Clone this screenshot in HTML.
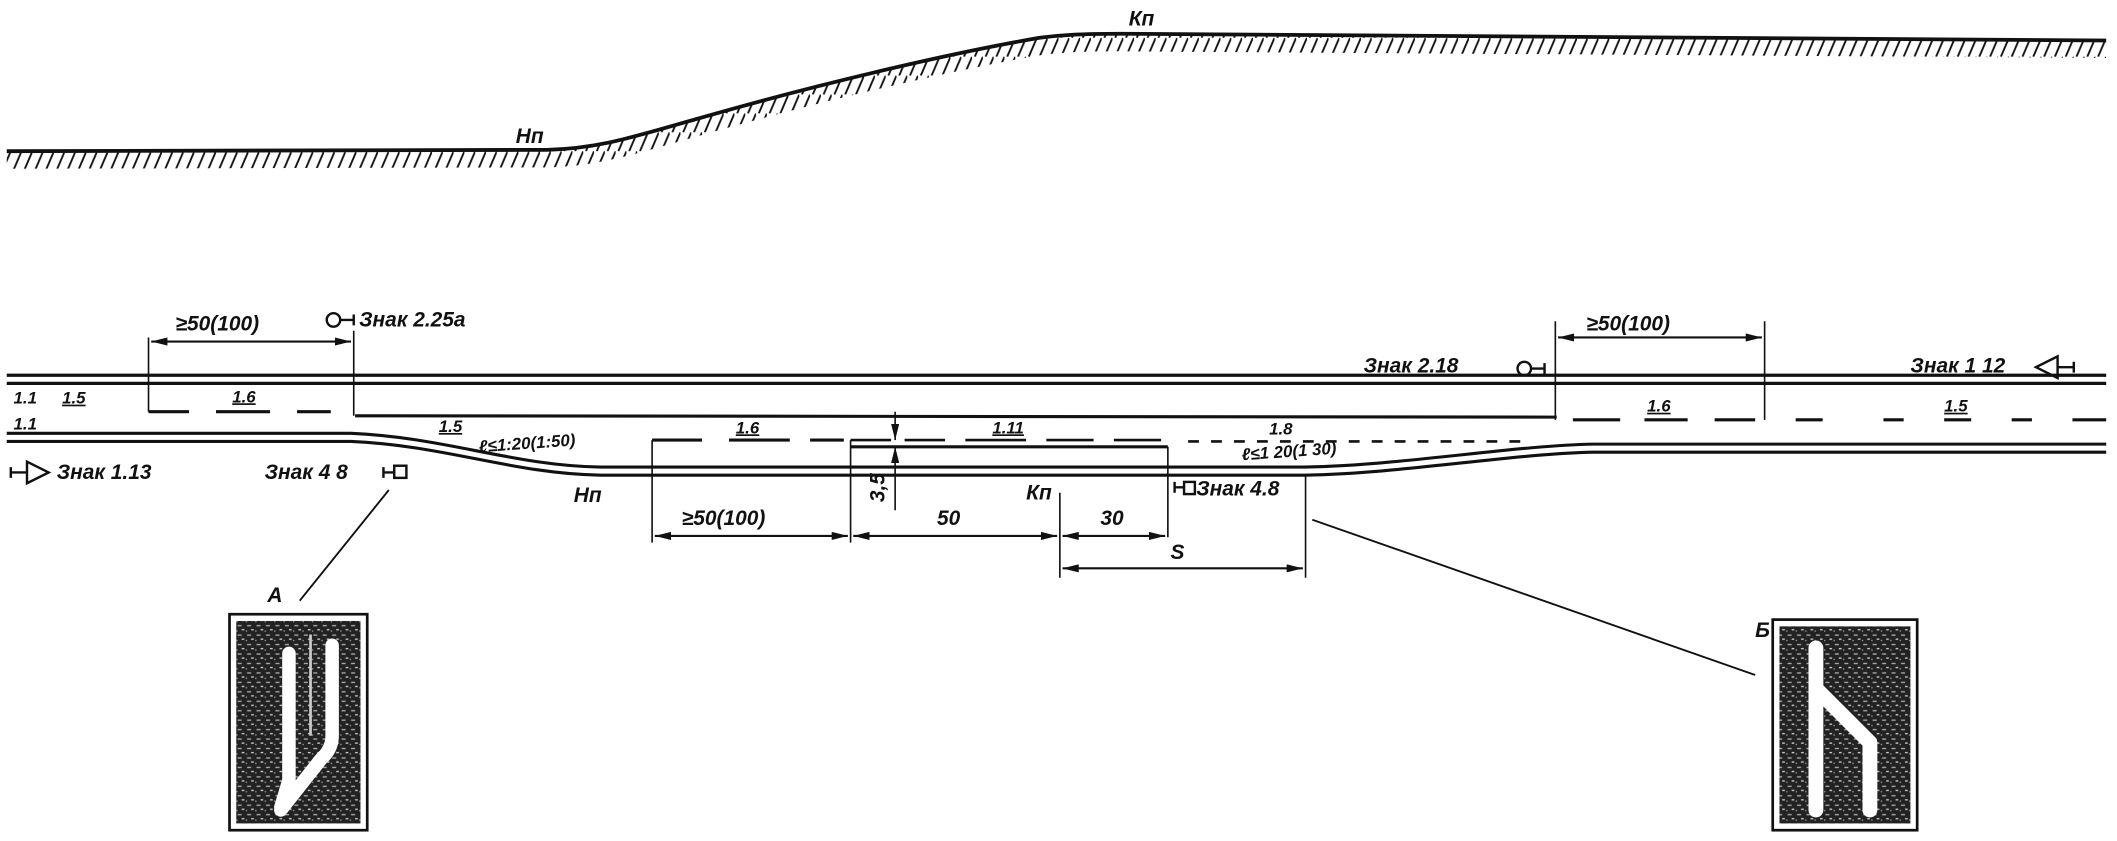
<!DOCTYPE html>
<html><head><meta charset="utf-8"><style>
html,body{margin:0;padding:0;background:#fff;}
svg{display:block}
text{font-family:"Liberation Sans","DejaVu Sans",sans-serif;font-style:italic;fill:#111;}
</style></head><body>
<svg width="2117" height="841" viewBox="0 0 1568 623" preserveAspectRatio="none" xmlns="http://www.w3.org/2000/svg">
<defs>
<pattern id="h" width="8" height="14" patternUnits="userSpaceOnUse">
<line x1="8" y1="0" x2="2" y2="14" stroke="#111" stroke-width="1.4"/>
</pattern>
<pattern id="tex" width="7" height="7" patternUnits="userSpaceOnUse">
<rect width="7" height="7" fill="#222"/>
<rect x="1" y="1" width="3" height="1" fill="#aaa"/>
<rect x="4" y="4" width="2" height="1" fill="#ccc"/>
<rect x="0" y="5" width="1" height="1" fill="#999"/>
</pattern>
<marker id="a" markerWidth="12" markerHeight="6" refX="12" refY="3" orient="auto" markerUnits="userSpaceOnUse"><path d="M0,0 L12,3 L0,6 Z" fill="#111"/></marker>
<marker id="b" markerWidth="12" markerHeight="6" refX="0" refY="3" orient="auto" markerUnits="userSpaceOnUse"><path d="M12,0 L0,3 L12,6 Z" fill="#111"/></marker>
</defs>
<g fill="none" stroke="#111">
<path d="M5,112 L405,111 C445,110 470,101 520,87 C600,64 700,40 770,28 C785,26 800,25 830,25 L1560,30 L1560,43 L830,38 C800,38 785,39 770,41 C700,53 600,77 520,100 C470,114 445,123 405,124 L5,125 Z" fill="url(#h)" stroke="none"/>
<path d="M5,112 L405,111 C445,110 470,101 520,87 C600,64 700,40 770,28 C785,26 800,25 830,25 L1560,30" stroke-width="2.8"/>
<line x1="5" y1="278" x2="1560" y2="278" stroke-width="2.4"/>
<line x1="5" y1="284" x2="1560" y2="284" stroke-width="2.4"/>
<path d="M263,308 L1153,309" stroke-width="2.3"/>
<path d="M110,305 H140 M160,305 H200 M220,305 H245" stroke-width="2.3"/>
<path d="M1165,311 H1200 M1218,311 H1250 M1270,311 H1300 M1330,311 H1350 M1395,311 H1410 M1440,311 H1460 M1490,311 H1505 M1535,311 H1560" stroke-width="2.3"/>
<path d="M5,321 L260,321 C330,324 380,345 445,346 L960,346 C1030,346 1120,330 1180,329 L1560,329" stroke-width="2.3"/>
<path d="M5,327 L260,327 C330,330 380,351 445,352 L960,352 C1030,352 1120,336 1180,335 L1560,335" stroke-width="2.3"/>
<path d="M483,326 H520 M540,326 H585 M600,326 H625" stroke-width="2.3"/>
<path d="M630,326 H660 M670,326 H700 M715,326 H760 M775,326 H810 M825,326 H860" stroke-width="2"/>
<path d="M630,331 H865" stroke-width="2.3"/>
<path d="M880,327 H1130" stroke-width="2" stroke-dasharray="8,9"/>
<path d="M110,250 V305 M262,245 V308 M1152,238 V311 M1307,238 V311" stroke-width="1.2"/>
<path d="M483,326 V402 M630,326 V402 M865,331 V398 M785,365 V428 M967,352 V428" stroke-width="1.2"/>
<line x1="112" y1="253" x2="260" y2="253" stroke-width="1.6" marker-start="url(#b)" marker-end="url(#a)"/>
<line x1="1154" y1="250" x2="1305" y2="250" stroke-width="1.6" marker-start="url(#b)" marker-end="url(#a)"/>
<line x1="485" y1="397" x2="628" y2="397" stroke-width="1.6" marker-start="url(#b)" marker-end="url(#a)"/>
<line x1="632" y1="397" x2="783" y2="397" stroke-width="1.6" marker-start="url(#b)" marker-end="url(#a)"/>
<line x1="787" y1="397" x2="863" y2="397" stroke-width="1.6" marker-start="url(#b)" marker-end="url(#a)"/>
<line x1="787" y1="421" x2="965" y2="421" stroke-width="1.6" marker-start="url(#b)" marker-end="url(#a)"/>
<line x1="663" y1="305" x2="663" y2="326" stroke-width="1.2" marker-end="url(#a)"/>
<line x1="663" y1="378" x2="663" y2="331" stroke-width="1.2" marker-end="url(#a)"/>
<circle cx="247" cy="237" r="5" stroke-width="1.8"/><path d="M252,237 H262 M262,233 V241" stroke-width="1.8"/>
<circle cx="1129" cy="273" r="5" stroke-width="1.8"/><path d="M1134,273 H1144 M1144,269 V277" stroke-width="1.8"/>
<path d="M1524,264 L1508,272 L1524,280 Z M1524,272 H1536 M1536,268 V276" stroke-width="1.8"/>
<path d="M8,350 H20 M8,346 V354 M20,342 L36,350 L20,358 Z" stroke-width="1.8"/>
<rect x="292" y="345" width="9" height="9" stroke-width="1.8"/><path d="M292,350 H284 M284,346 V354" stroke-width="1.8"/>
<rect x="877" y="357" width="8" height="9" stroke-width="1.8"/><path d="M877,361 H870 M870,357 V365" stroke-width="1.8"/>
<line x1="288" y1="363" x2="222" y2="445" stroke-width="1.4"/>
<line x1="972" y1="385" x2="1300" y2="500" stroke-width="1.4"/>
</g>
<rect x="170" y="455" width="102" height="160" fill="#fff" stroke="#111" stroke-width="2"/>
<rect x="175" y="460" width="92" height="150" fill="url(#tex)"/>
<path d="M214,484 L214,578 L208,598 M246,478 L246,545 Q246,555 238,562 L208,600" stroke="#fff" stroke-width="10" fill="none" stroke-linecap="round" stroke-linejoin="round"/>
<path d="M230,470 V545" stroke="#ccc" stroke-width="2" fill="none"/>
<rect x="1313" y="459" width="107" height="156" fill="#fff" stroke="#111" stroke-width="2"/>
<rect x="1318" y="464" width="97" height="146" fill="url(#tex)"/>
<path d="M1345,480 V600 M1345,510 L1385,550 L1385,600" stroke="#fff" stroke-width="11" fill="none" stroke-linecap="round" stroke-linejoin="round"/>
<g font-size="15.5" font-weight="bold">
<text x="382" y="106">Нп</text>
<text x="836" y="19">Кп</text>
<text x="130" y="245">≥50(100)</text>
<text x="266" y="242">Знак 2.25а</text>
<text x="1010" y="276">Знак 2.18</text>
<text x="1175" y="245">≥50(100)</text>
<text x="1415" y="276">Знак 1 12</text>
<text x="10" y="299" font-size="12.5">1.1</text>
<text x="46" y="299" font-size="12.5" text-decoration="underline">1.5</text>
<text x="172" y="298" font-size="12.5" text-decoration="underline">1.6</text>
<text x="10" y="318" font-size="12.5">1.1</text>
<text x="325" y="320" font-size="12.5" text-decoration="underline">1.5</text>
<text x="355" y="335" font-size="12.5" transform="rotate(-4 355 335)">ℓ≤1:20(1:50)</text>
<text x="545" y="321" font-size="12.5" text-decoration="underline">1.6</text>
<text x="735" y="321" font-size="12.5" text-decoration="underline">1.11</text>
<text x="940" y="322" font-size="12.5">1.8</text>
<text x="920" y="341" font-size="12.5" transform="rotate(-4 920 341)">ℓ≤1 20(1 30)</text>
<text x="1220" y="305" font-size="12.5" text-decoration="underline">1.6</text>
<text x="1440" y="305" font-size="12.5" text-decoration="underline">1.5</text>
<text x="42" y="355">Знак 1.13</text>
<text x="196" y="355">Знак 4 8</text>
<text x="886" y="367">Знак 4.8</text>
<text x="425" y="372">Нп</text>
<text x="760" y="370">Кп</text>
<text x="505" y="389">≥50(100)</text>
<text x="694" y="389">50</text>
<text x="815" y="389">30</text>
<text x="867" y="414">S</text>
<text x="655" y="372" transform="rotate(-90 655 372)">3,5</text>
<text x="198" y="446">А</text>
<text x="1300" y="472">Б</text>
</g>
</svg>
</body></html>
